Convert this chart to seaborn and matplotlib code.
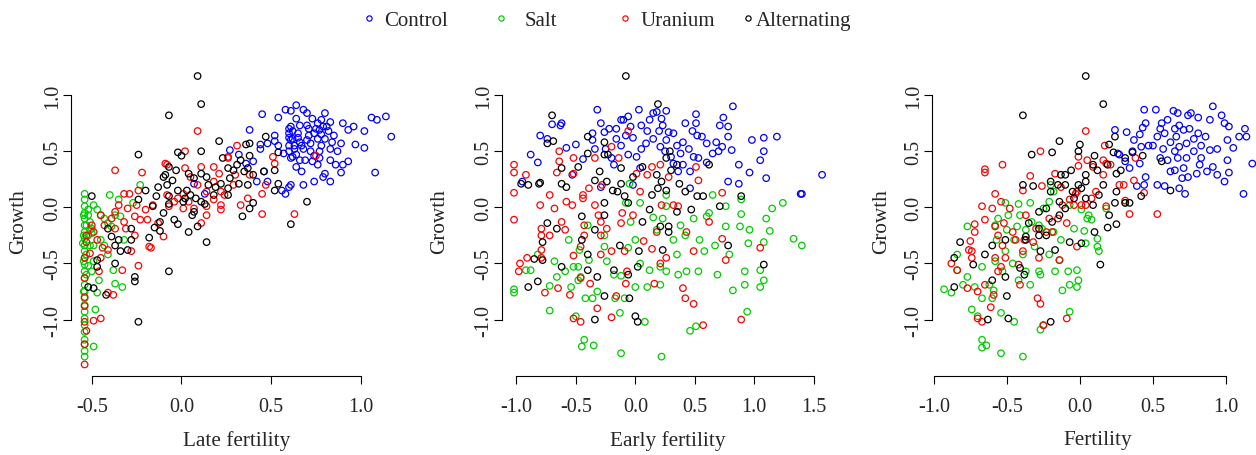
import numpy as np
import pandas as pd
import matplotlib
matplotlib.use("Agg")
import matplotlib.pyplot as plt
import seaborn as sns
from matplotlib.lines import Line2D
from matplotlib.ticker import FormatStrFormatter

groups = ["Control", "Salt", "Uranium", "Alternating"]
colors = ["#0000FF", "#00CD00", "#FF0000", "#000000"]

## (fertility, growth) pairs

# panel 1 : late fertility
late_control = [(0.45,0.83),(0.54,0.80),(0.58,0.87),(0.61,0.86),(0.64,0.91),(0.68,0.87),(0.70,0.84),(0.80,0.84),(0.73,0.79),(0.78,0.78),(0.83,0.76),(0.90,0.75),(0.96,0.72),(1.06,0.80),(1.09,0.78),(1.14,0.81),(1.17,0.63),(1.02,0.68),(0.93,0.69),(0.97,0.56),(1.02,0.53),(1.08,0.31),(0.93,0.41),(0.90,0.38),(0.89,0.31),(0.86,0.38),(0.83,0.42),(0.83,0.52),(0.89,0.57),(0.77,0.44),(0.74,0.46),(0.80,0.30),(0.79,0.27),(0.83,0.23),(0.74,0.23),(0.68,0.20),(0.61,0.20),(0.60,0.18),(0.56,0.15),(0.58,0.12),(0.48,0.23),(0.42,0.23),(0.46,0.32),(0.40,0.41),(0.36,0.39),(0.38,0.69),(0.44,0.56),(0.44,0.52),(0.48,0.57),(0.52,0.64),(0.52,0.59),(0.54,0.55),(0.57,0.48),(0.61,0.72),(0.62,0.61),(0.63,0.55),(0.64,0.47),(0.65,0.66),(0.66,0.58),(0.68,0.52),(0.69,0.42),(0.71,0.64),(0.72,0.57),(0.75,0.70),(0.76,0.61),(0.77,0.69),(0.78,0.55),(0.80,0.61),(0.81,0.72),(0.85,0.64),(0.87,0.50),(0.60,0.66),(0.61,0.44),(0.64,0.36),(0.67,0.32),(0.63,0.52),(0.27,0.51),(0.32,0.47),(0.07,0.21),(0.13,0.12),(0.73,0.41),(0.76,0.38),(0.77,0.50),(0.61,0.60),(0.64,0.79),(0.66,0.73),(0.70,0.73),(0.60,0.70),(0.60,0.62),(0.60,0.55),(0.60,0.50),(0.62,0.68),(0.62,0.45),(0.65,0.62),(0.66,0.42),(0.67,0.55),(0.70,0.60),(0.72,0.50),(0.74,0.66),(0.76,0.75),(0.78,0.65),(0.79,0.72),(0.82,0.68),(0.84,0.58),(0.71,0.70)]
late_salt = [(-0.23,0.20),(-0.40,0.11),(-0.35,0.07),(-0.27,0.04),(-0.54,0.12),(-0.54,0.07),(-0.54,0.01),(-0.54,-0.05),(-0.54,-0.10),(-0.54,-0.16),(-0.54,-0.22),(-0.54,-0.28),(-0.54,-0.34),(-0.54,-0.39),(-0.54,-0.45),(-0.54,-0.51),(-0.54,-0.57),(-0.54,-0.63),(-0.54,-0.69),(-0.54,-0.75),(-0.54,-0.81),(-0.54,-0.87),(-0.54,-0.93),(-0.54,-0.99),(-0.54,-1.05),(-0.54,-1.11),(-0.54,-1.18),(-0.54,-1.22),(-0.54,-1.28),(-0.54,-1.33),(-0.545,-0.07),(-0.545,-0.25),(-0.545,-0.48),(-0.545,-0.75),(-0.53,-0.42),(-0.53,-0.16),(-0.52,-0.07),(-0.51,-0.13),(-0.50,-0.19),(-0.49,-1.24),(-0.48,-0.91),(-0.47,-0.76),(-0.46,-0.65),(-0.47,-0.02),(-0.49,0.02),(-0.45,-0.07),(-0.43,-0.10),(-0.41,-0.14),(-0.39,-0.17),(-0.37,-0.07),(-0.34,-0.08),(-0.32,-0.29),(-0.38,-0.56),(-0.37,-0.68),(-0.33,-0.71),(-0.41,-0.42),(-0.43,-0.34),(-0.45,-0.29),(-0.49,-0.34),(-0.49,-0.48),(-0.50,-0.57),(-0.51,-0.34),(-0.52,-0.02),(-0.55,-0.32),(-0.52,-0.25),(-0.51,-0.20),(-0.50,-0.23),(-0.53,-0.60),(-0.52,-0.52)]
late_uranium = [(0.09,0.68),(0.02,0.50),(0.31,0.55),(0.26,0.45),(0.30,0.29),(-0.37,0.33),(-0.22,0.31),(-0.09,0.39),(-0.08,0.38),(0.02,0.35),(0.11,0.36),(0.18,0.36),(0.21,0.30),(0.05,0.27),(0.09,0.20),(0.14,0.14),(0.22,0.14),(0.24,0.11),(0.18,0.07),(0.22,0.02),(0.22,-0.02),(0.01,0.12),(-0.02,0.08),(0.01,-0.01),(-0.07,0.01),(-0.16,0.02),(-0.20,-0.02),(-0.19,-0.11),(-0.17,-0.36),(-0.10,-0.26),(0.11,-0.14),(0.14,-0.07),(0.33,0.02),(0.37,0.08),(0.45,0.12),(0.47,0.20),(0.45,-0.06),(0.51,0.45),(0.52,0.39),(0.75,0.46),(0.63,-0.06),(0.38,0.29),(-0.24,0.15),(-0.29,0.12),(-0.32,0.12),(-0.25,0.02),(-0.30,-0.01),(-0.35,0.02),(-0.37,-0.04),(-0.26,-0.08),(-0.32,-0.13),(-0.31,-0.19),(-0.26,-0.25),(-0.28,-0.39),(-0.33,-0.56),(-0.24,-0.52),(-0.38,-0.78),(-0.41,-0.76),(-0.45,-0.99),(-0.49,-1.01),(-0.46,-0.57),(-0.45,-0.45),(-0.44,-0.36),(-0.41,-0.38),(-0.47,-0.29),(-0.49,-0.22),(-0.50,-0.16),(-0.53,-0.25),(-0.53,-0.31),(-0.51,-0.41),(-0.54,-0.63),(-0.54,-0.88),(-0.54,-1.02),(-0.54,-1.40),(-0.54,-1.22),(-0.39,-0.10),(-0.37,-0.19),(-0.45,-0.07),(-0.43,-0.16),(-0.23,-0.11),(-0.18,-0.35),(-0.13,-0.14),(-0.08,0.11),(-0.04,0.05),(0.04,0.05),(0.07,-0.01),(0.14,0.01),(0.18,0.23),(0.26,0.44),(0.29,0.20),(-0.54,-0.45),(-0.54,-0.80),(-0.53,-1.10)]
late_alternating = [(0.09,1.17),(0.11,0.92),(-0.07,0.82),(-0.24,0.47),(-0.02,0.49),(0.00,0.46),(0.11,0.50),(0.21,0.59),(0.36,0.56),(0.38,0.57),(0.47,0.63),(0.38,0.46),(0.33,0.42),(0.23,0.44),(0.26,0.35),(0.31,0.38),(0.35,0.32),(0.37,0.35),(0.46,0.32),(0.52,0.33),(0.54,0.49),(0.54,0.21),(0.52,0.15),(0.61,-0.15),(0.70,0.05),(0.40,0.04),(0.38,-0.01),(0.34,-0.08),(0.37,0.20),(0.32,0.21),(0.27,0.26),(0.26,0.17),(0.22,0.21),(0.19,0.18),(0.15,0.20),(0.14,0.27),(0.11,0.30),(0.07,0.26),(0.04,0.30),(-0.03,0.33),(-0.07,0.36),(-0.09,0.29),(-0.10,0.27),(-0.05,0.24),(-0.08,0.20),(-0.13,0.18),(-0.14,0.10),(-0.07,0.10),(-0.02,0.15),(0.03,0.15),(0.05,0.11),(0.08,0.08),(0.11,0.05),(0.13,0.03),(0.02,0.08),(-0.07,0.03),(0.01,0.05),(0.07,-0.04),(0.06,-0.07),(-0.04,-0.11),(-0.02,-0.15),(0.04,-0.22),(0.09,-0.17),(0.14,-0.31),(-0.10,-0.05),(-0.12,-0.13),(-0.15,-0.18),(-0.12,-0.21),(-0.18,-0.27),(-0.20,0.15),(-0.16,0.01),(-0.24,0.07),(-0.28,-0.19),(-0.28,-0.29),(-0.30,-0.38),(-0.34,-0.39),(-0.37,-0.34),(-0.37,-0.50),(-0.26,-0.62),(-0.26,-0.66),(-0.24,-1.02),(-0.07,-0.57),(-0.42,-0.78),(-0.47,-0.53),(-0.47,-0.47),(-0.50,0.10),(-0.52,-0.71),(-0.49,-0.72),(-0.39,-0.26),(-0.35,-0.29),(-0.41,-0.19),(0.18,0.11),(0.26,0.11),(0.29,0.33),(0.40,0.29)]

# panel 2 : early fertility
early_control = [(-0.32,0.87),(-0.80,0.64),(-0.74,0.61),(-0.88,0.47),(-0.82,0.40),(-0.70,0.74),(-0.63,0.73),(-0.62,0.75),(-0.58,0.53),(-0.50,0.56),(-0.44,0.43),(-0.53,0.29),(-0.36,0.66),(-0.36,0.60),(-0.34,0.52),(-0.29,0.75),(-0.26,0.67),(-0.22,0.70),(-0.16,0.70),(-0.16,0.61),(-0.12,0.78),(-0.10,0.78),(-0.06,0.81),(0.03,0.87),(-0.04,0.72),(-0.08,0.64),(-0.12,0.55),(-0.20,0.44),(-0.18,0.38),(-0.06,0.47),(0.01,0.45),(0.05,0.73),(0.12,0.78),(0.15,0.84),(0.18,0.85),(0.22,0.79),(0.26,0.86),(0.23,0.73),(0.28,0.67),(0.32,0.66),(0.15,0.61),(0.09,0.57),(0.05,0.52),(0.21,0.54),(0.26,0.60),(0.35,0.55),(0.40,0.58),(0.42,0.75),(0.51,0.83),(0.51,0.75),(0.52,0.64),(0.56,0.63),(0.45,0.52),(0.49,0.45),(0.53,0.44),(0.40,0.38),(0.32,0.39),(0.36,0.32),(0.46,0.32),(0.60,0.57),(0.68,0.58),(0.71,0.73),(0.74,0.80),(0.78,0.72),(0.78,0.63),(0.73,0.54),(0.81,0.51),(0.65,0.48),(0.82,0.90),(0.87,0.38),(0.87,0.21),(0.78,0.23),(0.96,0.31),(0.98,0.60),(1.05,0.42),(1.08,0.62),(1.08,0.50),(1.10,0.26),(1.19,0.63),(1.39,0.12),(1.57,0.29),(0.46,0.17),(-0.02,0.20),(0.04,0.35),(-0.29,0.18),(-0.95,0.23),(0.25,0.50),(0.30,0.45),(0.10,0.68),(-0.02,0.62),(0.38,0.48),(0.60,0.40),(0.70,0.50),(0.48,0.68),(0.20,0.68),(-0.25,0.52),(1.40,0.12)]
early_salt = [(-1.02,-0.73),(-1.02,-0.76),(-0.92,-0.56),(-0.88,-0.56),(-0.82,-0.42),(-0.72,-0.92),(-0.72,-0.70),(-0.68,-0.48),(-0.66,-0.62),(-0.59,-0.57),(-0.56,-0.29),(-0.54,-0.71),(-0.52,-0.53),(-0.50,-0.97),(-0.48,-0.53),(-0.48,-0.65),(-0.47,-0.38),(-0.46,-0.62),(-0.45,-1.24),(-0.43,-1.18),(-0.42,-0.81),(-0.40,-0.16),(-0.39,-0.47),(-0.36,-0.81),(-0.35,-1.23),(-0.32,-0.75),(-0.26,-0.25),(-0.26,-0.35),(-0.24,-0.48),(-0.18,-0.60),(-0.17,-0.81),(-0.13,-0.94),(-0.12,-1.30),(-0.12,-0.61),(-0.09,-0.81),(-0.06,-0.36),(-0.04,-0.13),(0.00,-0.29),(0.00,-0.71),(0.04,-0.50),(0.08,-1.02),(0.12,-0.56),(0.10,-0.71),(0.15,-0.09),(0.18,-0.20),(0.21,-0.53),(0.21,-0.69),(0.22,-1.33),(0.23,-0.10),(0.26,0.01),(0.26,-0.57),(0.32,-0.29),(0.35,-0.42),(0.36,-0.60),(0.38,-0.16),(0.42,-0.25),(0.43,-0.57),(0.46,-1.10),(0.49,-0.10),(0.51,-1.06),(0.53,-0.57),(0.54,-0.29),(0.58,-0.39),(0.60,-0.08),(0.62,-0.05),(0.65,0.11),(0.67,-0.34),(0.69,-0.60),(0.76,0.01),(0.76,-0.17),(0.79,-0.42),(0.82,-0.74),(0.88,-0.17),(0.89,-0.06),(0.92,-0.57),(0.92,-0.69),(0.95,-0.32),(0.94,-0.93),(0.96,-0.20),(1.05,-0.56),(1.05,-0.71),(1.08,-0.31),(1.08,-0.65),(1.10,-0.10),(1.13,-0.21),(1.15,-0.01),(1.24,0.04),(1.33,-0.28),(1.40,-0.34),(0.89,0.07),(-0.08,0.04),(0.04,0.04),(0.26,0.11),(-0.05,0.21)]
early_uranium = [(-1.02,0.38),(-1.02,0.31),(-1.02,0.13),(-1.02,-0.11),(-0.92,0.29),(-0.97,-0.50),(-0.98,-0.57),(-0.91,-0.45),(-0.80,0.02),(-0.79,-0.19),(-0.79,-0.25),(-0.79,-0.38),(-0.79,-0.45),(-0.76,-0.76),(-0.72,0.11),(-0.72,-0.25),(-0.68,-0.01),(-0.66,0.31),(-0.64,0.50),(-0.64,0.41),(-0.65,-0.72),(-0.62,-0.13),(-0.59,-0.20),(-0.58,0.05),(-0.55,-0.78),(-0.53,0.02),(-0.52,0.44),(-0.52,0.30),(-0.52,-0.43),(-0.52,-0.99),(-0.46,-1.02),(-0.44,0.11),(-0.44,0.08),(-0.46,-0.35),(-0.43,-0.16),(-0.46,-0.63),(-0.43,-0.25),(-0.39,0.17),(-0.38,-0.68),(-0.34,0.44),(-0.34,0.02),(-0.31,-0.07),(-0.32,-0.90),(-0.29,-0.13),(-0.29,-0.42),(-0.28,0.20),(-0.29,-0.25),(-0.24,-0.19),(-0.20,0.54),(-0.20,-0.39),(-0.20,-0.98),(-0.16,-0.79),(-0.14,0.44),(-0.12,-0.14),(-0.11,-0.05),(-0.09,-0.39),(-0.08,-0.68),(-0.07,-0.57),(-0.06,0.68),(-0.02,-0.07),(0.01,0.30),(0.04,0.14),(0.07,-0.30),(0.10,0.29),(0.14,0.36),(0.14,-0.37),(0.16,-0.68),(0.18,-0.22),(0.21,0.38),(0.21,-0.50),(0.22,0.02),(0.26,-0.45),(0.28,0.27),(0.32,0.02),(0.36,0.01),(0.40,-0.72),(0.42,-0.81),(0.43,-0.22),(0.49,-0.86),(0.49,-0.39),(0.51,0.36),(0.53,0.24),(0.57,-1.05),(0.62,-0.13),(0.73,0.13),(0.73,-0.28),(0.76,-0.47),(0.89,-1.00),(1.05,-0.36)]
early_alternating = [(-0.08,1.17),(0.19,0.92),(-0.70,0.82),(-0.69,0.59),(-0.74,0.57),(-0.96,0.21),(-0.90,0.20),(-0.81,0.21),(-0.80,0.22),(-0.85,-0.46),(-0.90,-0.71),(-0.82,-0.66),(-0.78,-0.47),(-0.78,-0.31),(-0.74,-0.14),(-0.66,-0.19),(-0.62,-0.53),(-0.62,0.21),(-0.58,0.18),(-0.62,0.35),(-0.48,0.36),(-0.45,-0.08),(-0.45,-0.29),(-0.40,0.63),(-0.40,0.48),(-0.40,-0.42),(-0.40,-0.56),(-0.32,-0.62),(-0.34,-1.00),(-0.26,-0.79),(-0.34,-0.20),(-0.34,0.24),(-0.30,0.32),(-0.26,0.58),(-0.26,0.47),(-0.26,0.04),(-0.26,-0.07),(-0.23,0.47),(-0.24,0.23),(-0.19,0.15),(-0.18,-0.56),(-0.13,-0.34),(-0.12,0.21),(-0.12,0.35),(-0.09,0.10),(-0.06,0.04),(-0.06,-0.60),(-0.05,-0.81),(0.00,-0.97),(0.02,-1.02),(0.03,-0.39),(0.02,-0.53),(0.06,0.36),(0.06,-0.13),(0.12,-0.02),(0.14,0.11),(0.18,0.29),(0.19,0.17),(0.22,0.23),(0.26,0.44),(0.26,0.15),(0.29,0.50),(0.30,0.33),(0.23,-0.38),(0.28,-0.22),(0.28,-0.17),(0.35,-0.04),(0.37,0.21),(0.42,0.14),(0.47,-0.02),(0.52,0.10),(0.57,0.10),(0.62,0.38),(0.71,0.01),(0.78,-0.34),(0.89,0.10),(1.08,-0.51),(0.35,0.38),(0.21,-0.17),(-0.02,0.27),(-0.15,0.14)]

# panel 3 : fertility
fert_control = [(0.44,0.87),(0.52,0.87),(0.24,0.69),(0.32,0.67),(0.37,0.60),(0.41,0.65),(0.43,0.71),(0.45,0.75),(0.47,0.55),(0.42,0.54),(0.36,0.50),(0.31,0.41),(0.27,0.47),(0.41,0.39),(0.45,0.27),(0.39,0.19),(0.44,0.20),(0.53,0.20),(0.58,0.19),(0.50,0.55),(0.53,0.63),(0.55,0.70),(0.56,0.75),(0.58,0.66),(0.60,0.78),(0.64,0.86),(0.67,0.84),(0.68,0.73),(0.74,0.82),(0.76,0.84),(0.81,0.80),(0.75,0.70),(0.81,0.66),(0.86,0.63),(0.89,0.78),(0.91,0.90),(0.97,0.82),(0.99,0.75),(1.02,0.72),(1.01,0.60),(1.09,0.63),(1.13,0.70),(1.14,0.63),(1.05,0.53),(1.01,0.42),(1.02,0.31),(0.99,0.23),(0.94,0.29),(0.91,0.36),(1.18,0.39),(1.12,0.12),(0.94,0.52),(0.89,0.51),(0.83,0.44),(0.82,0.38),(0.80,0.30),(0.72,0.12),(0.68,0.17),(0.70,0.26),(0.74,0.27),(0.71,0.35),(0.65,0.33),(0.62,0.32),(0.60,0.42),(0.55,0.44),(0.65,0.50),(0.68,0.54),(0.73,0.57),(0.78,0.61),(0.83,0.55),(0.66,0.63),(0.62,0.58),(0.57,0.52),(0.65,0.70),(0.71,0.69),(0.78,0.50),(0.73,0.44),(0.67,0.44),(0.87,0.32),(0.34,0.35),(0.26,0.48)]
fert_salt = [(-0.93,-0.73),(-0.88,-0.76),(-0.84,-0.42),(-0.84,-0.56),(-0.80,-0.69),(-0.77,-0.17),(-0.77,-0.62),(-0.74,-0.91),(-0.72,-0.71),(-0.70,-0.97),(-0.67,-0.81),(-0.67,-1.18),(-0.67,-1.25),(-0.64,-1.23),(-0.67,-0.53),(-0.62,-0.69),(-0.60,-0.81),(-0.59,-0.74),(-0.58,-0.48),(-0.57,-0.29),(-0.56,-0.10),(-0.54,-0.94),(-0.54,-1.30),(-0.53,-0.57),(-0.51,0.04),(-0.51,-0.39),(-0.50,-0.20),(-0.49,-0.07),(-0.46,-0.50),(-0.45,-1.02),(-0.45,-0.29),(-0.42,0.03),(-0.42,-0.65),(-0.41,-0.07),(-0.39,-0.42),(-0.39,-1.33),(-0.37,-0.57),(-0.37,-0.20),(-0.34,-0.69),(-0.34,0.04),(-0.33,-0.13),(-0.31,-0.35),(-0.28,-0.57),(-0.27,-1.09),(-0.27,-0.60),(-0.25,-1.05),(-0.26,-0.19),(-0.25,-0.01),(-0.21,-0.42),(-0.21,0.05),(-0.18,-0.22),(-0.20,0.20),(-0.18,0.14),(-0.17,-0.57),(-0.14,-0.47),(-0.13,-0.29),(-0.12,-0.74),(-0.08,-0.57),(-0.07,-0.69),(-0.07,-0.93),(-0.04,-0.19),(-0.02,-0.56),(-0.02,-0.71),(-0.01,-0.65),(0.01,-0.02),(0.03,-0.21),(0.04,-0.32),(0.05,-0.10),(0.06,-0.07),(0.08,-0.11),(0.12,-0.28),(0.13,-0.39),(0.12,-0.35),(0.18,-0.01),(0.31,0.04),(-0.07,0.02),(-0.28,-0.16),(-0.43,-0.17),(-0.58,-0.16)]
fert_uranium = [(0.04,0.68),(-0.27,0.50),(0.17,0.55),(-0.53,0.38),(-0.65,0.34),(-0.65,0.31),(-0.34,0.28),(-0.26,0.19),(-0.39,0.15),(-0.58,0.12),(-0.54,0.05),(-0.67,0.01),(-0.60,-0.01),(-0.48,-0.01),(-0.65,-0.11),(-0.72,-0.15),(-0.72,-0.22),(-0.75,-0.30),(-0.76,-0.38),(-0.74,-0.39),(-0.74,-0.45),(-0.88,-0.50),(-0.84,-0.56),(-0.77,-0.72),(-0.70,-0.75),(-0.67,-1.02),(-0.70,-0.99),(-0.61,-0.89),(-0.59,-0.78),(-0.65,-0.69),(-0.58,-0.45),(-0.58,-0.17),(-0.56,-0.25),(-0.52,-0.14),(-0.53,-0.34),(-0.51,-0.45),(-0.54,-0.53),(-0.56,-0.57),(-0.46,-0.22),(-0.44,-0.29),(-0.42,-0.51),(-0.41,-0.69),(-0.39,-0.39),(-0.38,-0.29),(-0.30,-0.19),(-0.28,-0.45),(-0.27,-0.86),(-0.29,-0.81),(-0.25,-1.05),(-0.32,-0.31),(-0.21,-0.10),(-0.15,-0.10),(-0.14,-0.47),(-0.09,-0.14),(-0.09,-0.99),(-0.07,0.07),(-0.01,0.45),(-0.01,0.37),(-0.02,-0.35),(-0.04,0.02),(0.01,0.02),(0.04,0.02),(-0.03,0.12),(-0.02,0.14),(0.05,0.42),(0.09,0.36),(0.08,0.08),(0.11,0.14),(0.16,0.42),(0.16,0.29),(0.18,0.39),(0.21,0.38),(0.18,0.01),(0.27,0.20),(0.30,0.20),(0.31,0.06),(0.34,-0.06),(0.38,0.44),(0.37,0.24),(0.53,-0.06),(0.44,0.13),(-0.13,0.18),(-0.17,0.30),(-0.12,0.02),(-0.19,-0.22),(-0.23,-0.22),(-0.37,-0.07)]
fert_alternating = [(0.04,1.17),(0.16,0.92),(-0.39,0.82),(-0.33,0.47),(-0.19,0.49),(-0.14,0.59),(0.00,0.56),(-0.01,0.50),(0.10,0.46),(0.20,0.56),(0.24,0.63),(0.23,0.49),(0.31,0.44),(0.36,0.49),(0.43,0.46),(0.56,0.41),(0.62,0.15),(0.42,0.10),(0.34,0.04),(0.31,0.04),(0.25,0.14),(0.24,0.04),(0.20,-0.07),(0.19,-0.18),(0.25,-0.15),(0.14,-0.51),(0.10,-0.22),(0.01,-0.32),(-0.07,-0.31),(-0.06,0.33),(-0.10,0.29),(-0.13,0.29),(-0.10,0.20),(-0.15,0.20),(-0.20,0.23),(-0.20,0.14),(-0.01,0.20),(0.01,0.17),(0.04,0.23),(0.04,0.29),(0.09,0.38),(0.12,0.33),(0.16,0.20),(0.19,0.38),(0.25,0.30),(0.28,0.33),(0.13,0.11),(0.04,0.08),(0.09,0.02),(-0.04,0.08),(-0.14,0.05),(-0.14,-0.07),(-0.19,-0.13),(-0.23,-0.01),(-0.28,-0.04),(-0.39,0.20),(-0.32,0.19),(-0.28,-0.19),(-0.28,-0.25),(-0.35,-0.14),(-0.37,-0.26),(-0.37,-0.29),(-0.38,-0.60),(-0.41,-0.54),(-0.27,-0.39),(-0.17,-0.38),(-0.51,-0.29),(-0.60,-0.34),(-0.65,-0.42),(-0.73,-0.51),(-0.82,-0.31),(-0.86,-0.45),(-0.86,-0.71),(-0.63,-1.00),(-0.60,-0.65),(-0.49,-0.99),(-0.50,-0.79),(-0.51,-0.62),(-0.20,-1.02),(-0.23,-0.25),(-0.10,-0.01),(-0.05,0.14)]

panels = [
    ("Late fertility", [late_control, late_salt, late_uranium, late_alternating], [-0.5, 0.0, 0.5, 1.0]),
    ("Early fertility", [early_control, early_salt, early_uranium, early_alternating], [-1.0, -0.5, 0.0, 0.5, 1.0, 1.5]),
    ("Fertility", [fert_control, fert_salt, fert_uranium, fert_alternating], [-1.0, -0.5, 0.0, 0.5, 1.0]),
]
growth_ticks = [-1.0, -0.5, 0.0, 0.5, 1.0]


def r_range(v):
    # R default axis range: data range padded by 4% on both sides
    lo, hi = np.min(v), np.max(v)
    pad = 0.04 * (hi - lo)
    return lo - pad, hi + pad


def main():
    sns.set_style("ticks")
    plt.rcParams["font.family"] = ["Liberation Serif", "DejaVu Serif"]
    plt.rcParams["axes.unicode_minus"] = False

    W, H = 1256, 456
    fig = plt.figure(figsize=(W / 100, H / 100), dpi=100)

    # plot regions in pixels (left, right) and shared top / bottom
    boxes = [(70.5, 403.6), (501.7, 834.4), (931.7, 1264.6)]
    top_px, bot_px = 65.5, 377.0
    ylab_x = [-0.155, -0.188, -0.150]

    frames = []
    for name, series, _ in panels:
        for g, pts in zip(groups, series):
            d = pd.DataFrame(pts, columns=["fert", "growth"])
            d["group"] = g
            d["panel"] = name
            frames.append(d)
    df = pd.concat(frames, ignore_index=True)
    ylim = r_range(df["growth"])

    for i, (name, series, xticks) in enumerate(panels):
        l, r = boxes[i]
        ax = fig.add_axes([l / W, 1 - bot_px / H, (r - l) / W, (bot_px - top_px) / H])
        sub = df[df.panel == name]
        for g, c in zip(groups, colors):
            d = sub[sub.group == g]
            sns.scatterplot(data=d, x="fert", y="growth", ax=ax, s=22,
                            facecolors="none", edgecolor=c, linewidth=0.9, legend=False)

        ax.set_xlim(r_range(sub["fert"]))
        ax.set_ylim(ylim)
        ax.set_xticks(xticks)
        ax.set_yticks(growth_ticks)
        ax.xaxis.set_major_formatter(FormatStrFormatter("%.1f"))
        ax.yaxis.set_major_formatter(FormatStrFormatter("%.1f"))
        sns.despine(ax=ax)
        for s in ["left", "bottom"]:
            ax.spines[s].set_linewidth(0.8)
            ax.spines[s].set_color("black")
        ax.spines["bottom"].set_bounds(xticks[0], xticks[-1])
        ax.spines["left"].set_bounds(growth_ticks[0], growth_ticks[-1])
        ax.tick_params(axis="both", length=5.5, width=0.8, color="black", labelsize=14.5)
        ax.tick_params(axis="x", pad=9.5)
        ax.tick_params(axis="y", pad=0.5)
        plt.setp(ax.get_yticklabels(), rotation=90, va="center")

        ax.set_xlabel(name, fontsize=15.3)
        ax.set_ylabel("Growth", fontsize=15.3)
        ax.xaxis.set_label_coords(0.5, (bot_px - 441) / (bot_px - top_px))
        ax.xaxis.label.set_va("center")
        ax.yaxis.set_label_coords(ylab_x[i], 0.5)
        ax.yaxis.label.set_va("center")

    # legend across the top, one entry at a time like R's horizontal legend
    marker_px = [369, 501, 625, 747.7]
    text_pad = [0.32, 0.75, 0.32, 0.0]
    for g, c, mx, tp in zip(groups, colors, marker_px, text_pad):
        h = Line2D([], [], ls="", marker="o", ms=3.8, mfc="none", mec=c, mew=0.85)
        fig.legend(handles=[h], labels=[g], loc="center left",
                   bbox_to_anchor=((mx - 8.3) / W, 1 - 21 / H), frameon=False,
                   borderpad=0, borderaxespad=0, handlelength=0.8,
                   handletextpad=tp, fontsize=15)

    fig.savefig("out.png", dpi=100)


if __name__ == "__main__":
    main()
